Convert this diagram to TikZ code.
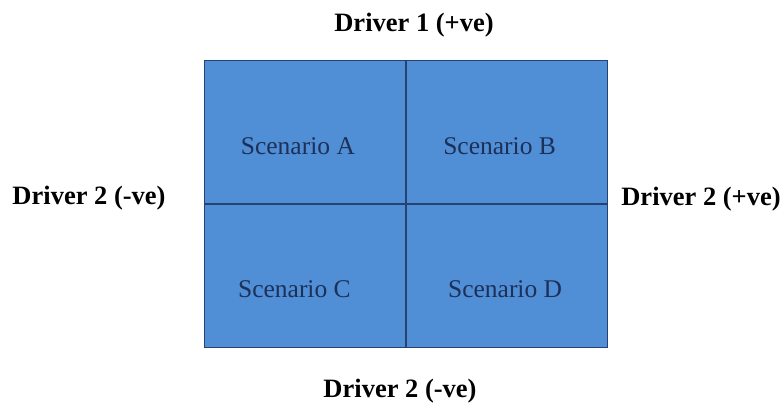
\documentclass[tikz,border=0pt]{standalone}
\usepackage{fontspec}
\setmainfont{Liberation Serif}
\usetikzlibrary{positioning}
\definecolor{cellblue}{RGB}{80,142,214}
\definecolor{edgeblue}{RGB}{38,66,112}
\definecolor{textnavy}{RGB}{28,48,88}

\tikzset{
    cell/.style={rectangle, draw=edgeblue, fill=cellblue, line width=1.2pt,
        minimum width=201pt, minimum height=142.5pt, inner sep=0},
    scen/.style={text=textnavy, font=\fontsize{25.5}{30}\selectfont},
    driver/.style={text=black, font=\bfseries\fontsize{26.5}{31}\selectfont}
    }

\begin{document}
\begin{tikzpicture}[x=1pt, y=1pt]
                \useasboundingbox (0,0) rectangle (783,405);
                % The Grid
                \coordinate (mid) at (406,201);
                \node(A)[cell, anchor=south east] at (mid) {};
                \node(B)[cell, anchor=south west] at (mid) {};
                \node(C)[cell, anchor=north east] at (mid) {};
                \node(D)[cell, anchor=north west] at (mid) {};
                % The Scenarios
                \node(sA)[scen] at ([xshift=-7pt, yshift=-14pt]A.center) {Scenario A};
                \node(sB)[scen] at ([xshift=-7.5pt, yshift=-14pt]B.center) {Scenario B};
                \node(sC)[scen] at ([xshift=-10.5pt, yshift=-13pt]C.center) {Scenario C};
                \node(sD)[scen] at ([xshift=-2pt, yshift=-13pt]D.center) {Scenario D};
                % The Drivers
                \node(top)[driver] at (414,380) {Driver 1 (+ve)};
                \node(left)[driver] at (89,207) {Driver 2 (-ve)};
                \node(right)[driver] at (701,206) {Driver 2 (+ve)};
                \node(bottom)[driver] at (400,14) {Driver 2 (-ve)};
            \end{tikzpicture}
\end{document}
